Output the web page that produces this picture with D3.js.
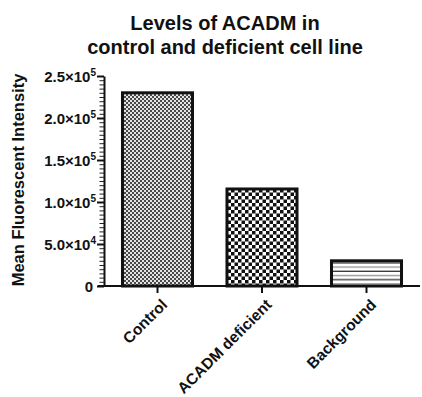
<!DOCTYPE html>
<html>
<head>
<meta charset="utf-8">
<script src="https://cdn.jsdelivr.net/npm/d3@7"></script>
<style>
  body { margin: 0; background: #fff; }
  text { font-family: "Liberation Sans", Arial, sans-serif; font-weight: bold; fill: #111; }
</style>
</head>
<body>
<svg id="chart" width="422" height="397"></svg>
<script>
// data
const groups = ["Control", "ACADM deficient", "Background"]
const values = [230000, 115500, 30000]
const fills = ["fine", "checker", "hlines"]
const yTicks = [0, 50000, 100000, 150000, 200000, 250000]
const titleLines = ["Levels of ACADM in", "control and deficient cell line"]
const yTitle = "Mean Fluorescent Intensity"

const svg = d3.select("#chart")

let x = d3.scaleBand()
	.domain(groups)
	.range([104, 420])
	.paddingInner(0.33)
	.paddingOuter(0.177)

let y = d3.scaleLinear()
	.domain([0, 250000])
	.range([286, 76])

// patterns
const defs = svg.append("defs")

let p1 = defs.append("pattern")
	.attr("id", "fine")
	.attr("patternUnits", "userSpaceOnUse")
	.attr("width", 4).attr("height", 4)
p1.append("rect").attr("width", 4).attr("height", 4).attr("fill", "#e4e4e4")
p1.append("rect").attr("width", 2).attr("height", 2).attr("fill", "#4a4a4a")
p1.append("rect").attr("x", 2).attr("y", 2).attr("width", 2).attr("height", 2).attr("fill", "#4a4a4a")

let p2 = defs.append("pattern")
	.attr("id", "checker")
	.attr("patternUnits", "userSpaceOnUse")
	.attr("width", 7).attr("height", 7)
p2.append("rect").attr("width", 7).attr("height", 7).attr("fill", "#fff")
p2.append("rect").attr("width", 3.5).attr("height", 3.5).attr("fill", "#111")
p2.append("rect").attr("x", 3.5).attr("y", 3.5).attr("width", 3.5).attr("height", 3.5).attr("fill", "#111")

let p3 = defs.append("pattern")
	.attr("id", "hlines")
	.attr("patternUnits", "userSpaceOnUse")
	.attr("width", 8).attr("height", 8.4)
	.attr("y", 286)
p3.append("rect").attr("width", 8).attr("height", 8.4).attr("fill", "#fff")
p3.append("rect").attr("y", 1.5).attr("width", 8).attr("height", 1.2).attr("fill", "#222")
p3.append("rect").attr("y", 5.7).attr("width", 8).attr("height", 1.2).attr("fill", "#888")

// title
svg.append("text")
	.attr("x", 225)
	.attr("y", 30)
	.attr("text-anchor", "middle")
	.style("font-size", "20px")
	.selectAll("tspan")
	.data(titleLines)
	.enter()
		.append("tspan")
		.attr("x", 225)
		.attr("dy", (d, i) => i == 0 ? 0 : 24)
		.text(d => d)

// y title
svg.append("text")
	.attr("transform", "translate(24," + ((y(0) + y(250000)) / 2 - 1) + ") rotate(-90)")
	.attr("text-anchor", "middle")
	.style("font-size", "16.5px")
	.text(yTitle)

// bars
svg.selectAll("rect.bar")
	.data(groups)
	.enter()
		.append("rect")
		.attr("class", "bar")
		.attr("x", d => x(d))
		.attr("y", (d, i) => y(values[i]))
		.attr("width", x.bandwidth())
		.attr("height", (d, i) => y(0) - y(values[i]))
		.attr("fill", (d, i) => "url(#" + fills[i] + ")")
		.attr("stroke", "#111")
		.attr("stroke-width", 3)

// y axis, minor ticks
let yMinor = d3.axisLeft(y).tickValues(d3.range(0, 250001, 5000)).tickSize(4.5).tickFormat("")
let yMinorG = svg.append("g")
	.attr("transform", "translate(104,0)")
	.call(yMinor)
yMinorG.select(".domain").remove()
yMinorG.selectAll("line").attr("stroke", "#222").attr("stroke-width", 1)

let yAxis = d3.axisLeft(y).tickValues(yTicks).tickSize(7).tickSizeOuter(0).tickFormat("")
let yG = svg.append("g")
	.attr("transform", "translate(104,0)")
	.call(yAxis)
yG.select(".domain").attr("stroke", "#111").attr("stroke-width", 2)
yG.selectAll("line").attr("stroke", "#111").attr("stroke-width", 2)

// y tick labels with powers of ten
yTicks.forEach(function(v) {
	let t = svg.append("text")
		.attr("x", 96)
		.attr("y", y(v) + 5.5)
		.attr("text-anchor", "end")
		.style("font-size", "15px")
	if (v == 0) { t.attr("x", 93).text("0"); return }
	let e = Math.floor(Math.log10(v))
	let m = v / Math.pow(10, e)
	t.append("tspan").text(m.toFixed(1) + "\u00d710")
	t.append("tspan").attr("dy", -6).style("font-size", "10px").text(e)
})

// x axis
let xAxis = d3.axisBottom(x).tickSize(7).tickSizeOuter(0).tickFormat("")
let xG = svg.append("g")
	.attr("transform", "translate(0,286)")
	.call(xAxis)
xG.select(".domain").attr("d", "M98,0H420").attr("stroke", "#111").attr("stroke-width", 2)
xG.selectAll("line").attr("stroke", "#111").attr("stroke-width", 2)

svg.selectAll("text.xlab")
	.data(groups)
	.enter()
		.append("text")
		.attr("class", "xlab")
		.attr("transform", d => "translate(" + (x(d) + x.bandwidth() / 2 + 3) + ",298) rotate(-45)")
		.attr("text-anchor", "end")
		.attr("dy", "0.7em")
		.style("font-size", "15.5px")
		.text(d => d)
</script>
</body>
</html>
